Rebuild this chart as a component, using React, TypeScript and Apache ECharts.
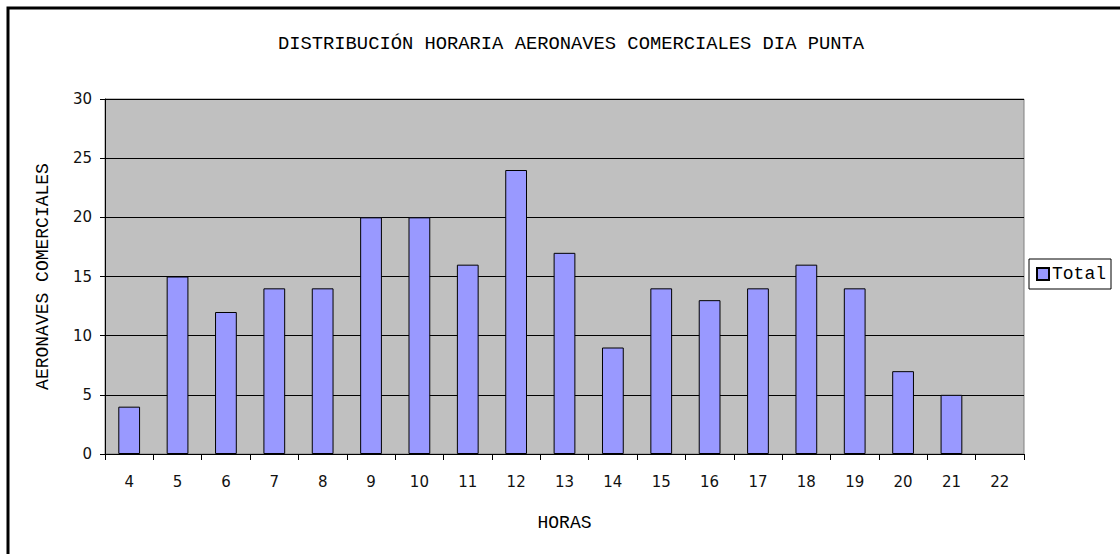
import React, { useEffect, useRef } from "react";
import * as echarts from "echarts";

const hours = ["4", "5", "6", "7", "8", "9", "10", "11", "12", "13", "14", "15", "16", "17", "18", "19", "20", "21", "22"];
const totals = [4, 15, 12, 14, 14, 20, 20, 16, 24, 17, 9, 14, 13, 14, 16, 14, 7, 5, null];
const titleText = "DISTRIBUCIÓN HORARIA AERONAVES COMERCIALES DIA PUNTA";
const yName = "AERONAVES COMERCIALES";
const xName = "HORAS";
const seriesName = "Total";

const mono = "'Liberation Mono', 'DejaVu Sans Mono', monospace";
const sans = "'DejaVu Sans', Verdana, sans-serif";

export default function App() {
  const ref = useRef<HTMLDivElement>(null);
  useEffect(() => {
    if (!ref.current) return;
    const chart = echarts.init(ref.current, null, { renderer: "svg" });
    chart.setOption({
      animation: false,
      backgroundColor: "#ffffff",
      title: {
        text: titleText,
        left: 566,
        textAlign: "center",
        top: 29,
        textStyle: { fontFamily: mono, fontSize: 18.8, fontWeight: "normal", color: "#000" },
      },
      graphic: [
        {
          type: "rect",
          shape: { x: 8, y: 8, width: 1300, height: 700 },
          style: { fill: "none", stroke: "#000", lineWidth: 3 },
          silent: true,
          z: 100,
        },
      ],
      legend: {
        left: 1029,
        top: 259,
        orient: "vertical",
        padding: [6, 5, 6, 7],
        itemWidth: 12,
        itemHeight: 12,
        itemGap: 4,
        borderColor: "#000",
        borderWidth: 1,
        backgroundColor: "#fff",
        textStyle: { fontFamily: mono, fontSize: 18, color: "#000", padding: [0, 0, 0, -2] },
        data: [{ name: seriesName, icon: "rect" }],
      },
      grid: {
        left: 105,
        right: 96,
        top: 99,
        bottom: 100,
        show: true,
        backgroundColor: "#C0C0C0",
        borderColor: "#808080",
        borderWidth: 1,
      },
      xAxis: {
        type: "category",
        data: hours,
        name: xName,
        nameLocation: "middle",
        nameGap: 60,
        nameTextStyle: { fontFamily: mono, fontSize: 18, color: "#000" },
        axisLine: { show: true, lineStyle: { color: "#000", width: 1 } },
        axisTick: { show: true, length: 6, lineStyle: { color: "#000" } },
        axisLabel: { fontFamily: sans, fontSize: 15, color: "#111", margin: 20 },
        splitLine: { show: false },
      },
      yAxis: {
        type: "value",
        min: 0,
        max: 30,
        interval: 5,
        name: yName,
        nameLocation: "middle",
        nameGap: 53,
        nameTextStyle: { fontFamily: mono, fontSize: 18, color: "#000" },
        axisLine: { show: true, lineStyle: { color: "#000", width: 1 } },
        axisTick: { show: true, length: 5, lineStyle: { color: "#000" } },
        axisLabel: { fontFamily: sans, fontSize: 15, color: "#111", margin: 13 },
        splitLine: { show: true, lineStyle: { color: "#000", width: 1 } },
      },
      series: [
        {
          name: seriesName,
          type: "bar",
          data: totals,
          barWidth: "45%",
          itemStyle: { color: "#9999FF", borderColor: "#000", borderWidth: 1 },
        },
      ],
    });
    return () => chart.dispose();
  }, []);
  return (
    <div
      ref={ref}
      style={{ position: "fixed", left: 0, top: 0, width: 1120, height: 554 }}
    />
  );
}
